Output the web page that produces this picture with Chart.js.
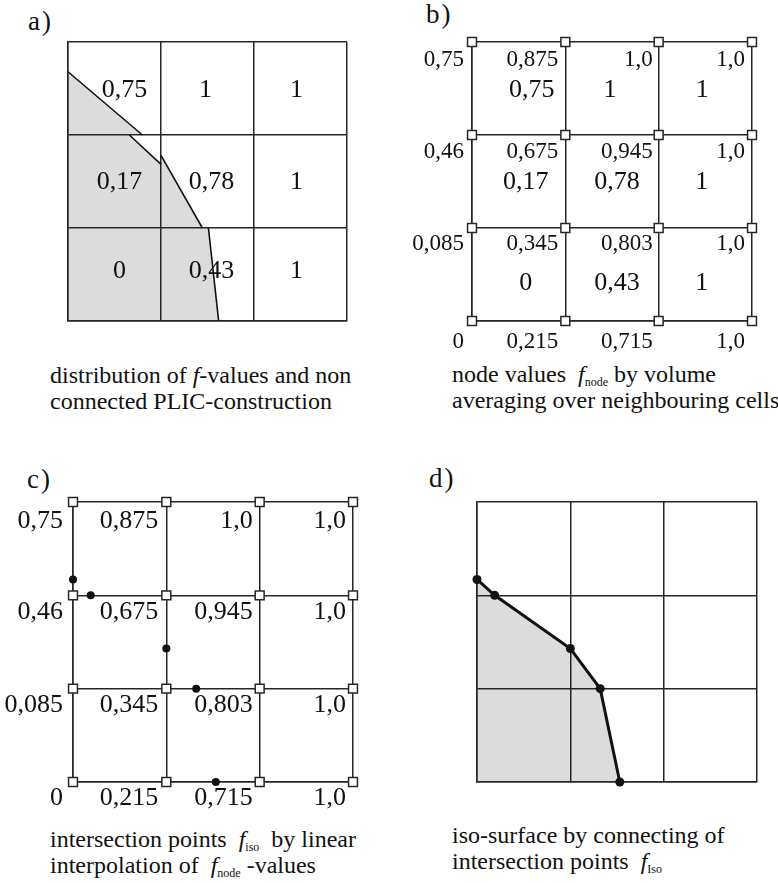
<!DOCTYPE html>
<html><head><meta charset="utf-8">
<script src="https://cdn.jsdelivr.net/npm/chart.js@4.4.1/dist/chart.umd.min.js"></script>
<style>
html,body{margin:0;padding:0;background:#fff;}
body{width:778px;height:883px;position:relative;overflow:hidden;font-family:'Liberation Serif',Tinos,'Times New Roman',serif;color:#111;}
canvas{position:absolute;}
.lbl{position:absolute;font-size:27px;line-height:27px;letter-spacing:2px;}
.cap{position:absolute;font-size:24px;line-height:26px;white-space:nowrap;}
.cap sub{font-size:12px;vertical-align:-4px;line-height:0;}
</style></head><body>
<div class="lbl" style="left:28px;top:8px">a)</div>
<div class="lbl" style="left:426px;top:1px">b)</div>
<div class="lbl" style="left:27px;top:466px">c)</div>
<div class="lbl" style="left:429px;top:465px">d)</div>
<canvas id="ca" width="389" height="300" style="left:0;top:36px"></canvas>
<canvas id="cb" width="389" height="320" style="left:389px;top:36px"></canvas>
<canvas id="cc" width="389" height="330" style="left:0;top:492px"></canvas>
<canvas id="cd" width="389" height="300" style="left:389px;top:492px"></canvas>
<div class="cap" style="left:50px;top:362px">distribution of <i>f</i>-values and non<br>connected PLIC-construction</div>
<div class="cap" style="left:452px;top:361px">node values&nbsp; <i>f</i><sub>node</sub> by volume<br>averaging over neighbouring cells</div>
<div class="cap" style="left:50px;top:826px">intersection points&nbsp; <i>f</i><sub>iso</sub>&nbsp; by linear<br>interpolation of&nbsp; <i>f</i><sub>node</sub> -values</div>
<div class="cap" style="left:452px;top:822px">iso-surface by connecting of<br>intersection points&nbsp; <i>f</i><sub>Iso</sub></div>
<script>
// ---- data ----
const cellLabels = ['0,75','1','1','0,17','0,78','1','0','0,43','1']; // rows top -> bottom
const nodeRowTop = ['0,75','0,875','1,0','1,0'];
const nodeRow2 = ['0,46','0,675','0,945','1,0'];
const nodeRow1 = ['0,085','0,345','0,803','1,0'];
const nodeRowBottom = ['0','0,215','0,715','1,0'];
const gridXs = [0,1,2,3];
const gridYs = [0,1,2,3];
const plicSegTopLeft = [{x:0,y:2.68},{x:0.80,y:2.0}];
const plicSegMidLeft = [{x:0.66,y:2.0},{x:1.0,y:1.685}];
const plicSegMidCenter = [{x:1.0,y:1.78},{x:1.445,y:1.0}];
const plicSegBottomCenter = [{x:1.51,y:1.0},{x:1.62,y:0}];
const isoPoints = [{x:0,y:2.17},{x:0.19,y:2.0},{x:1.0,y:1.43},{x:1.32,y:1.0},{x:1.53,y:0}];

// ---- styles ----
const INK = '#111';
const GRID = '#262626';
const GRAY = '#dcdcdc';
const SERIF = "'Liberation Serif', Tinos, serif";

const nodePoints = [];
gridYs.forEach(y => gridXs.forEach(x => nodePoints.push({x, y})));

function scales() {
  const ax = {
    type: 'linear', min: 0, max: 3,
    ticks: { display: false, stepSize: 1 },
    grid: { color: GRID, lineWidth: 1.5, drawTicks: false },
    border: { display: true, color: GRID, width: 1.5 }
  };
  return { x: {...ax}, y: {...ax} };
}

function textPlugin(cfg) {
  return {
    id: 'gridText',
    afterDatasetsDraw(chart) {
      const ctx = chart.ctx, xs = chart.scales.x, ys = chart.scales.y;
      ctx.save();
      ctx.fillStyle = INK;
      if (cfg.cells) {
        const c = cfg.cells;
        ctx.font = c.font; ctx.textAlign = 'center'; ctx.textBaseline = 'middle';
        c.labels.forEach((t, i) => {
          const row = Math.floor(i / 3), col = i % 3;
          ctx.fillText(t, xs.getPixelForValue(col + 0.5) + c.dx[i], ys.getPixelForValue(2.5 - row) + c.dy[row]);
        });
      }
      if (cfg.nodes) {
        const n = cfg.nodes;
        ctx.font = n.font; ctx.textAlign = 'right'; ctx.textBaseline = 'alphabetic';
        n.rows.forEach((r, ri) => r.forEach((t, ci) => {
          ctx.fillText(t, xs.getPixelForValue(ci) + n.dx[ci], ys.getPixelForValue(3 - ri) + n.dy[ri]);
        }));
      }
      ctx.restore();
    }
  };
}

function make(id, datasets, padding, cfg) {
  return new Chart(document.getElementById(id), {
    type: 'scatter',
    data: { datasets },
    options: {
      responsive: false, animation: false, events: [],
      layout: { padding, autoPadding: false },
      scales: scales(),
      plugins: { legend: { display: false }, tooltip: { enabled: false }, filler: { drawTime: 'beforeDraw' } }
    },
    plugins: [textPlugin(cfg)]
  });
}

const segStyle = { showLine: true, borderColor: INK, borderWidth: 1.6, pointRadius: 0, fill: false, clip: false };
const squares = { data: nodePoints, pointStyle: 'rect', pointRadius: 6.3, backgroundColor: '#fff', borderColor: GRID, borderWidth: 1.5, showLine: false, clip: false };

// a)
make('ca', [
  { data: plicSegTopLeft, showLine: true, borderWidth: 0, pointRadius: 0, fill: { value: 2 }, backgroundColor: GRAY },
  { data: [{x:0,y:2.0}, ...plicSegMidLeft, ...plicSegMidCenter, ...plicSegBottomCenter], showLine: true, borderWidth: 0, pointRadius: 0, fill: 'origin', backgroundColor: GRAY },
  { data: plicSegTopLeft, ...segStyle },
  { data: plicSegMidLeft, ...segStyle },
  { data: plicSegMidCenter, ...segStyle },
  { data: plicSegBottomCenter, ...segStyle }
], { left: 68, right: 42, top: 6, bottom: 15 }, {
  cells: { labels: cellLabels, font: '26px ' + SERIF, dx: [10,-2,-4, 5,4,-4, 5,4,-4], dy: [1.5, 1, -3] }
});

// b)
make('cb', [ squares ], { left: 83, right: 26, top: 6, bottom: 35 }, {
  cells: { labels: cellLabels, font: '26px ' + SERIF, dx: [13,-2,-3, 7,5,-3.5, 7,5,-3.5], dy: [1.5, 1, 8.5] },
  nodes: { rows: [nodeRowTop, nodeRow2, nodeRow1, nodeRowBottom], font: '23px ' + SERIF, dx: [-8,-7,-6,-7], dy: [24, 23, 22, 27] }
});

// c)
make('cc', [
  squares,
  { data: isoPoints, pointStyle: 'circle', pointRadius: 4, backgroundColor: INK, borderWidth: 0, showLine: false, clip: false }
], { left: 73, right: 36, top: 10, bottom: 40 }, {
  nodes: { rows: [nodeRowTop, nodeRow2, nodeRow1, nodeRowBottom], font: '26px ' + SERIF, dx: [-10,-8,-7,-7], dy: [26, 24, 23, 23] }
});

// d)
make('cd', [
  { data: isoPoints, showLine: true, borderColor: INK, borderWidth: 3, backgroundColor: GRAY, fill: 'origin',
    pointStyle: 'circle', pointRadius: 4.5, pointBackgroundColor: INK, pointBorderWidth: 0, clip: false }
], { left: 88, right: 21, top: 10, bottom: 10 }, {});
</script>
</body></html>
